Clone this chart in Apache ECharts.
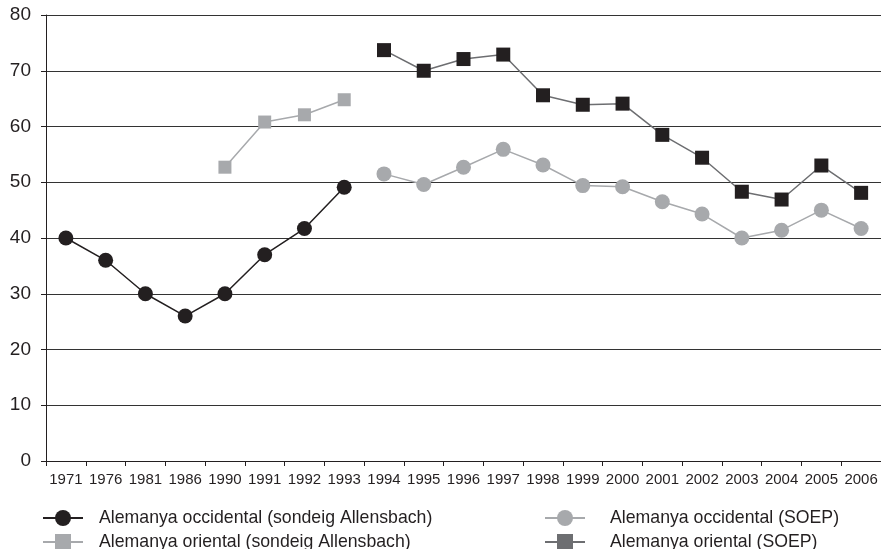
<!DOCTYPE html>
<html>
<head>
<meta charset="utf-8">
<script src="https://cdn.jsdelivr.net/npm/echarts@6/dist/echarts.min.js"></script>
<style>
  html, body { margin: 0; padding: 0; background: #fff; }
  #main { width: 881px; height: 549px; }
</style>
</head>
<body>
<div id="main"></div>
<script>
// categories (years)
const years = ['1971','1976','1981','1986','1990','1991','1992','1993','1994','1995','1996','1997','1998','1999','2000','2001','2002','2003','2004','2005','2006'];

// Alemanya occidental (sondeig Allensbach)
const westAllens = [40, 36, 30, 26, 30, 37, 41.7, 49.1, null, null, null, null, null, null, null, null, null, null, null, null, null];
// Alemanya oriental (sondeig Allensbach)
const eastAllens = [null, null, null, null, 52.7, 60.8, 62.1, 64.8, null, null, null, null, null, null, null, null, null, null, null, null, null];
// Alemanya occidental (SOEP)
const westSoep = [null, null, null, null, null, null, null, null, 51.5, 49.6, 52.7, 55.9, 53.1, 49.4, 49.2, 46.5, 44.3, 40.0, 41.4, 45.0, 41.7];
// Alemanya oriental (SOEP)
const eastSoep = [null, null, null, null, null, null, null, null, 73.7, 70.0, 72.1, 72.9, 65.6, 63.9, 64.1, 58.5, 54.4, 48.3, 46.9, 53.0, 48.1];

const yTicks = [0, 10, 20, 30, 40, 50, 60, 70, 80];

const names = [
  'Alemanya occidental (sondeig Allensbach)',
  'Alemanya oriental (sondeig Allensbach)',
  'Alemanya occidental (SOEP)',
  'Alemanya oriental (SOEP)'
];

const black = '#231f20';
const grey = '#a7a9ac';
const dark = '#6d6e71';
const font = '"Liberation Sans", Arial, Helvetica, sans-serif';

const chart = echarts.init(document.getElementById('main'));

// one legend per entry so the two columns sit where the reference has them
function legendAt(left, top, gap, item) {
  return {
    left: left,
    top: top,
    padding: 0,
    itemWidth: 40,
    itemHeight: 20,
    textStyle: { fontFamily: font, fontSize: 17.7, color: black, padding: [0, 0, 0, gap] },
    selectedMode: false,
    data: [item]
  };
}

chart.setOption({
  animation: false,
  backgroundColor: '#fff',
  textStyle: { fontFamily: font },
  grid: { left: 46, right: 0, top: 15, bottom: 88, containLabel: false },
  legend: [
    legendAt(42, 509, 11, names[0]),
    legendAt(42, 533, 11, names[1]),
    legendAt(544, 509, 20, names[2]),
    legendAt(544, 533, 20, { name: names[3], itemStyle: { color: dark } })
  ],
  xAxis: {
    type: 'category',
    data: years,
    boundaryGap: true,
    axisLine: { lineStyle: { color: black, width: 1 } },
    axisTick: { show: true, length: 5, lineStyle: { color: black } },
    axisLabel: { fontSize: 15, color: '#231f20', margin: 11, interval: 0, fontFamily: font },
    splitLine: { show: false }
  },
  yAxis: {
    type: 'value',
    min: yTicks[0],
    max: yTicks[yTicks.length - 1],
    interval: 10,
    axisLine: { show: true, lineStyle: { color: black, width: 1 } },
    axisTick: { show: true, length: 5, lineStyle: { color: black } },
    axisLabel: { fontSize: 19, color: black, margin: 15, fontFamily: font },
    splitLine: { show: true, lineStyle: { color: '#333', width: 1.2 } }
  },
  series: [
    {
      name: names[0], type: 'line', data: westAllens,
      symbol: 'circle', symbolSize: 15,
      itemStyle: { color: black },
      lineStyle: { color: black, width: 1.5 },
      z: 3
    },
    {
      name: names[1], type: 'line', data: eastAllens,
      symbol: 'rect', symbolSize: 13,
      itemStyle: { color: grey },
      lineStyle: { color: grey, width: 1.5 },
      z: 3
    },
    {
      name: names[2], type: 'line', data: westSoep,
      symbol: 'circle', symbolSize: 15,
      itemStyle: { color: grey },
      lineStyle: { color: grey, width: 1.5 },
      z: 3
    },
    {
      name: names[3], type: 'line', data: eastSoep,
      symbol: 'rect', symbolSize: 14,
      itemStyle: { color: black },
      lineStyle: { color: dark, width: 1.5 },
      z: 3
    }
  ]
});
</script>
</body>
</html>
